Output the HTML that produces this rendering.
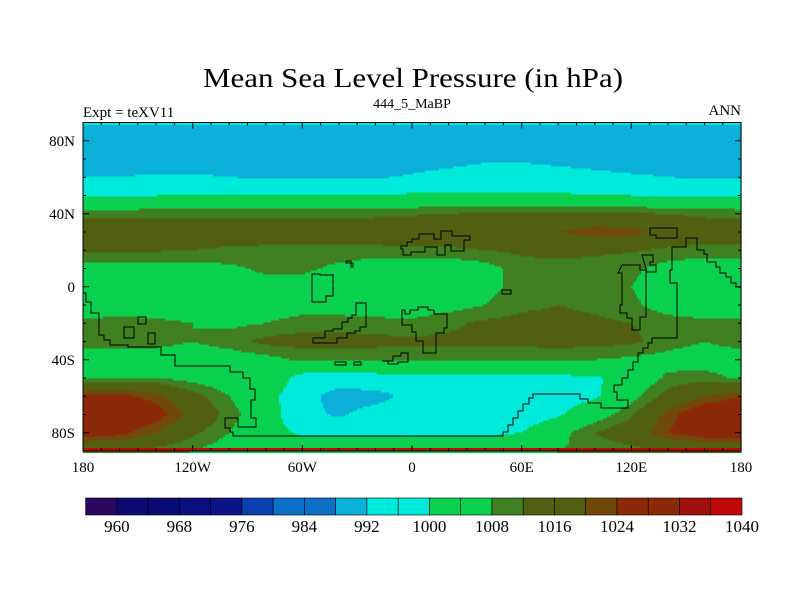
<!DOCTYPE html>
<html><head><meta charset="utf-8"><style>
html,body{margin:0;padding:0;background:#fff;}
svg text{font-family:"Liberation Serif",serif;fill:#000;}
</style></head><body>
<svg id="chart" width="800" height="600" viewBox="0 0 800 600" xmlns="http://www.w3.org/2000/svg">
<text x="413" y="87" font-size="27" text-anchor="middle" textLength="420" lengthAdjust="spacingAndGlyphs">Mean Sea Level Pressure (in hPa)</text>
<text x="83" y="117" font-size="15">Expt = teXV11</text>
<text x="412" y="108" font-size="14" text-anchor="middle">444_5_MaBP</text>
<text x="741" y="115" font-size="15" text-anchor="end">ANN</text>
<g id="field"></g>
<g id="coast" fill="none" stroke="#000" stroke-width="1"></g>
<g id="axes"></g>
<g id="cbar"></g>
</svg>
<script>
const lons=[-180,-160,-140,-120,-100,-80,-60,-40,-20,0,20,40,60,80,100,120,140,160,180];
const lats=[90,80,70,60,50,40,30,20,10,0,-10,-20,-30,-40,-50,-60,-70,-80,-90];
const p90 =[989,989,989,989,989,989,989,989,989,989,989,989,989,989,989,989,989,989,989];
const p80 =[989,989,989,989,989,989,989,989,989,989,989,989,989,989,989,989,989,989,989];
const p70 =[990,990,990,990,990,990,990,989.5,989.5,990,990.5,991.5,991.5,991,990.5,990,990,990,990];
const p60 =[992,992,992.5,992.5,992,991.5,991,991,991.5,992.5,993.5,994,994,993.5,993,992.5,992,991.5,991.5];
const p50 =[999.5,999.5,1000,1000,1000,1000,1000,1000,1000.5,1001,1001.5,1001.5,1001.5,1001,1000.5,1000,999.5,999.5,999.5];
const p40 =[1010.5,1010.5,1010.5,1010.5,1010.5,1010.5,1010.5,1010.5,1011,1011.5,1012,1012.5,1013,1013,1013,1012.5,1012,1011,1010.5];
const p30 =[1016,1016,1016,1016,1016,1016,1016,1016,1016,1016,1016,1017,1018.5,1020,1022.5,1022,1017,1016,1016];
const p20 =[1012.5,1012.5,1012.5,1012,1011,1010.5,1010,1010,1010.5,1011,1011,1012,1013,1013.5,1013,1012.5,1011,1010,1010];
const p10 =[1006,1006,1006,1006,1007,1009,1009,1007,1005,1004,1004,1006,1010,1010.5,1010,1009,1006,1005,1005];
const p0  =[1004,1004,1004,1004.5,1005,1006,1006,1004.5,1003,1003,1004,1006,1010,1010.5,1010,1008,1005,1005,1006];
const pm10=[1005,1005.5,1005,1005,1005,1005,1005.5,1005.5,1005,1005,1006,1008,1011,1012,1011,1009,1005.5,1005,1005];
const pm20=[1009,1009.5,1009,1008,1007,1008,1010,1010,1009.5,1009,1011,1013,1013.5,1013.5,1013,1012,1010,1009,1009];
const pm30=[1010,1010,1009.5,1008,1010,1013.5,1014,1014,1013.5,1013,1013,1013,1013.5,1014,1013.5,1013,1010,1008,1010];
const pm40=[1005,1005,1005,1005,1005,1006,1009,1009,1009,1009,1008.5,1008.5,1008.5,1008.5,1008,1007,1006,1005,1005];
const pm50=[1007,1007.5,1008,1006,1004,1006,997,996,997,998,998,998.5,998.5,998.5,999,1003,1009,1010,1007];
const pm60=[1026,1026,1022,1014,1008,1003,995,989,989.5,994,996,997,998,997,999,1006,1014,1020,1024];
const pm70=[1030,1030,1027,1018,1010,1004,994,991,995,996,996,996,996,999,1005,1011,1022,1030,1030];
const pm80=[1028,1026,1020,1013,1008,1003,999,999,999,999,999,999,1000,1006,1012,1016,1024,1028,1028];
const pm90=[1012,1011,1010,1008,1005,1003,1003,1003,1003,1003,1003,1003,1005,1008,1009,1010,1012,1013,1013];
const grid=[p90,p80,p70,p60,p50,p40,p30,p20,p10,p0,pm10,pm20,pm30,pm40,pm50,pm60,pm70,pm80,pm90];
const levelLabels=[960,968,976,984,992,1000,1008,1016,1024,1032,1040];
const palette=["#2a0860","#0c0a70","#0a0a76","#0a0e80","#0a1488","#0a40b0","#0a70c8","#0a70c8","#0ab0d8","#00eadc","#00eadc","#0ad050","#0ad050","#408020","#506010","#506010","#704808","#8a2a08","#8a2a08","#a01010","#c00808"];
const X0=83,X1=741,Y0=122.5,Y1=451;
const xOf=lon=>X0+(lon+180)/360*(X1-X0);
const yOf=lat=>Y0+(90-lat)/180*(Y1-Y0);
const NS="http://www.w3.org/2000/svg";
function mk(tag,attrs,parent){const e=document.createElementNS(NS,tag);for(const k in attrs)e.setAttribute(k,attrs[k]);parent.appendChild(e);return e;}
function colorIdx(v){let i=Math.floor((v-960)/4)+1;return Math.max(0,Math.min(20,i));}
function valAt(lon,lat){
  let fx=(lon-lons[0])/(lons[1]-lons[0]);let fy=(lats[0]-lat)/(lats[0]-lats[1]);
  let i=Math.max(0,Math.min(lons.length-2,Math.floor(fx)));let j=Math.max(0,Math.min(lats.length-2,Math.floor(fy)));
  let tx=fx-i,ty=fy-j;
  return grid[j][i]*(1-tx)*(1-ty)+grid[j][i+1]*tx*(1-ty)+grid[j+1][i]*(1-tx)*ty+grid[j+1][i+1]*tx*ty;
}
const field=document.getElementById('field');
const step=2;
for(let y=Y0;y<Y1;y+=step){
  const lat=90-(y+step/2-Y0)/(Y1-Y0)*180;
  let runStart=X0,runC=-1;
  for(let x=X0;x<=X1;x+=step){
    let c=-2;
    if(x<X1){const lon=(x+step/2-X0)/(X1-X0)*360-180;c=colorIdx(valAt(lon,lat));}
    if(c!==runC){
      if(runC>=0){const r=mk('rect',{x:runStart,y:y,width:Math.min(x,X1)-runStart+0.6,height:step+0.6,fill:palette[runC]},field);
        
        }
      runStart=x;runC=c;
    }
  }
}
const topStrip=mk('rect',{x:X0,y:Y0,width:X1-X0,height:2.5,fill:palette[10]},field);


const botStrip=mk('rect',{x:X0,y:Y1-3,width:X1-X0,height:3,fill:palette[20]},field);


const coast=document.getElementById('coast');
const coastPaths=[
"M83,293H86V302H91V313H99V335H104V340H110V345H128V347H161V355H175V366H230V372H243V378H250V389H255V400H251V418H256V427H238V418H225V428H230V432H233V436H503V432H508V425H513V418H518V411H523V404H529V398H533V394H580V399H588V403H601V408H628V400H617V392H614V385H622V378H628V370H633V362H638V353H643V348H648V343H652V338H677V283H670V270H672V247H686V238H697V250H704V254H707V262H716V267H720V273H726V277H731V283H736V287H741",
"M312,274V302H326V296H333V275H320V274Z",
"M346,261H351V267H353V263H346Z",
"M401,246H407V242H412V239H419V234H434V239H441V231H452V236H470V240H464V251H451V245H445V255H437V247H425V252H411V255H403V249H401Z",
"M402,310H405V314H410V310H418V307H428V310H434V314H447V328H444V333H436V353H423V341H416V332H412V325H402Z",
"M313,343V338H325V331H333V329H342V322H348V318H352V315H356V303H366V327H360V331H355V333H347V338H337V343H320Z",
"M382,361H393V356H401V353H408V362H398V364H388V361Z",
"M335,365H346V362H335Z M354,365H361V362H354Z",
"M618,273H622V305H620V313H627V318H632V330H640V317H646V270H640V265H622Z",
"M642,255H653V262H650V265H656V272H647Z",
"M650,228H677V238H656V235H650Z",
"M502,290H511V294H502Z",
"M138,317H146V324H138Z M148,333H155V344H148Z",
"M124,327H134V338H124Z"
];
coastPaths.forEach((d,k)=>{const p=mk('path',{d:d},coast);});
const axes=document.getElementById('axes');
const frame=mk('rect',{x:X0,y:Y0,width:X1-X0,height:Y1-Y0,fill:'none',stroke:'#000','stroke-width':1},axes);


const lonTickVals=[-180,-170,-160,-150,-140,-130,-120,-110,-100,-90,-80,-70,-60,-50,-40,-30,-20,-10,0,10,20,30,40,50,60,70,80,90,100,110,120,130,140,150,160,170,180];
const lonLabels=["180","120W","60W","0","60E","120E","180"];
const lonLabelVals=[-180,-120,-60,0,60,120,180];
lonTickVals.forEach(v=>{const x=xOf(v);const L=v%60===0?6:3;
  mk('line',{x1:x,y1:Y1,x2:x,y2:Y1-L,stroke:'#000'},axes);
  mk('line',{x1:x,y1:Y0,x2:x,y2:Y0+L,stroke:'#000'},axes);});
lonLabelVals.forEach((v,i)=>{const t=mk('text',{x:xOf(v),y:472,'font-size':15,'text-anchor':'middle'},axes);t.textContent=lonLabels[i];
  
  });
const latTickVals=[80,70,60,50,40,30,20,10,0,-10,-20,-30,-40,-50,-60,-70,-80];
const latLabels=["80N","40N","0","40S","80S"];
const latLabelVals=[80,40,0,-40,-80];
latTickVals.forEach(v=>{const y=yOf(v);const L=v%40===0?6:3;
  mk('line',{x1:X0,y1:y,x2:X0+L,y2:y,stroke:'#000'},axes);
  mk('line',{x1:X1,y1:y,x2:X1-L,y2:y,stroke:'#000'},axes);});
latLabelVals.forEach((v,i)=>{const t=mk('text',{x:75,y:yOf(v)+5,'font-size':15,'text-anchor':'end'},axes);t.textContent=latLabels[i];
  
  });
const cbar=document.getElementById('cbar');
const CB0=85.6,CB1=742,CBY=498,CBH=17,cw=(CB1-CB0)/palette.length;
palette.forEach((c,i)=>{const r=mk('rect',{x:CB0+i*cw,y:CBY,width:cw,height:CBH,fill:c,stroke:'#000','stroke-width':0.6},cbar);
  
  });
levelLabels.forEach((v,i)=>{const t=mk('text',{x:CB0+(1+2*i)*cw,y:532,'font-size':17,'text-anchor':'middle'},cbar);t.textContent=v;
  
  });
</script>
</body></html>
